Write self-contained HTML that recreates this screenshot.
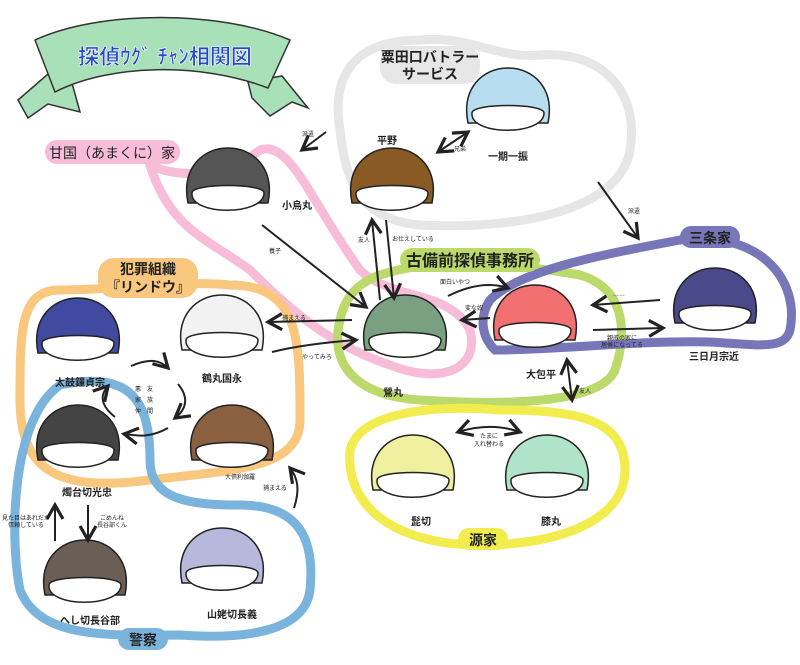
<!DOCTYPE html>
<html><head><meta charset="utf-8"><style>
html,body{margin:0;padding:0;background:#fff}
svg{display:block}
text{font-family:"Liberation Sans","Noto Sans CJK JP",sans-serif;fill:#222}
.n{font-size:10px;font-weight:bold;text-anchor:middle}
.s{font-size:6px;text-anchor:middle}
.g{font-size:16px;font-weight:bold;text-anchor:middle}
.loop{fill:none;stroke-width:9;stroke-linecap:round}
.ar{fill:none;stroke:#222;stroke-width:2;marker-end:url(#a)}
.ar2{fill:none;stroke:#222;stroke-width:2;marker-end:url(#a);marker-start:url(#b)}
.face{fill:#fff;stroke:#222;stroke-width:1.5}
.hair{stroke:#222;stroke-width:1.5}
</style></head><body>
<svg width="800" height="665" viewBox="0 0 800 665" xmlns="http://www.w3.org/2000/svg">
<defs>
<marker id="a" markerWidth="10" markerHeight="10" refX="8" refY="5" orient="auto"><path d="M1,1 L8,5 L1,9" fill="none" stroke="#222" stroke-width="1.6"/></marker>
<marker id="b" markerWidth="10" markerHeight="10" refX="2" refY="5" orient="auto"><path d="M9,1 L2,5 L9,9" fill="none" stroke="#222" stroke-width="1.6"/></marker>
<g id="head"><path class="hair" d="M-40,15 C-47,-20 -25,-40 0,-40 C25,-40 47,-20 40,15 Z"/><path class="face" d="M-36,5 C-38,28 36,28 36,5 C36,-5 -36,-5 -36,5 Z"/></g>
</defs>

<!-- banner -->
<path d="M18,100 L48,74 L70,76 L80,112 L48,104 L28,118 Z" fill="#a8e0b8" stroke="#333" stroke-width="1.5"/>
<path d="M248,82 L282,76 L308,108 L292,102 L270,116 L252,98 Z" fill="#a8e0b8" stroke="#333" stroke-width="1.5"/>
<path d="M35,40 C100,10 220,10 290,40 L268,88 C200,62 110,64 55,92 Z" fill="#a8e0b8" stroke="#333" stroke-width="1.5"/>
<text x="165" y="64" style="font-size:21px;font-weight:bold;fill:#2a46c8;stroke:#fff;stroke-width:0.6" text-anchor="middle">探偵ｳｸﾞ ﾁｬﾝ相関図</text>

<!-- loops -->
<path class="loop" stroke="#e6e6e6" d="M340,130 C330,70 360,40 420,40 C470,35 500,60 540,55 C600,50 640,90 630,150 C620,210 520,230 420,225 C360,220 345,180 340,130 Z"/>
<path class="loop" stroke="#f6bcd8" d="M150,165 C180,180 230,175 260,150 C290,140 310,200 360,270 C390,300 450,290 470,330 C480,370 440,385 390,365 C330,345 290,310 250,270 C210,240 170,230 150,165 Z"/>
<path class="loop" stroke="#fac77e" d="M60,290 C20,290 20,330 20,400 C20,480 70,490 150,480 C230,470 300,470 300,420 C300,340 300,285 230,285 C180,280 120,290 60,290 Z"/>
<path class="loop" stroke="#7ab4dc" d="M60,385 C130,370 150,400 150,460 C150,500 190,505 240,505 C300,505 315,540 310,590 C305,630 250,640 180,635 C110,635 40,640 20,590 C10,540 10,420 60,385 Z"/>
<path class="loop" stroke="#bcd96c" d="M380,275 C440,255 520,265 580,275 C630,290 625,340 615,370 C600,405 500,405 420,400 C350,395 330,360 340,320 C345,295 360,282 380,275 Z"/>
<path class="loop" stroke="#7676b8" d="M490,300 C520,270 600,255 680,240 C760,230 800,280 790,330 C785,350 760,345 710,342 C640,340 560,350 495,350 C480,335 480,315 490,300 Z"/>
<path class="loop" stroke="#f2ec4e" d="M350,450 C360,410 440,405 500,410 C580,410 625,420 625,470 C625,520 560,545 480,545 C400,545 345,510 350,450 Z"/>

<!-- group labels -->
<rect x="380" y="46" width="100" height="38" rx="16" fill="#e6e6e6"/>
<text class="g" x="430" y="62" style="font-size:14px">粟田口バトラー</text>
<text class="g" x="430" y="79" style="font-size:14px">サービス</text>
<rect x="45" y="140" width="135" height="24" rx="12" fill="#f6bcd8"/>
<text class="g" x="112" y="158" style="font-size:14px;font-weight:normal">甘国（あまくに）家</text>
<rect x="98" y="258" width="100" height="40" rx="16" fill="#fac77e"/>
<text class="g" x="148" y="274" style="font-size:14px">犯罪組織</text>
<text class="g" x="148" y="292" style="font-size:14px">『リンドウ』</text>
<rect x="400" y="248" width="140" height="24" rx="12" fill="#bcd96c"/>
<text class="g" x="470" y="266">古備前探偵事務所</text>
<rect x="680" y="226" width="60" height="22" rx="11" fill="#7676b8"/>
<text class="g" x="710" y="243" style="font-size:14px">三条家</text>
<rect x="458" y="528" width="50" height="22" rx="11" fill="#f2ec4e"/>
<text class="g" x="483" y="545" style="font-size:14px">源家</text>
<rect x="118" y="628" width="50" height="22" rx="11" fill="#7ab4dc"/>
<text class="g" x="143" y="645" style="font-size:14px">警察</text>

<!-- heads -->
<use href="#head" x="508" y="108" fill="#b8dcf0"/>
<use href="#head" x="392" y="188" fill="#8a5a24"/>
<use href="#head" x="228" y="188" fill="#555"/>
<use href="#head" x="405" y="335" fill="#7aa082"/>
<use href="#head" x="535" y="325" fill="#f27070"/>
<use href="#head" x="715" y="308" fill="#4a4a8a"/>
<use href="#head" x="78" y="338" fill="#404aa0"/>
<use href="#head" x="222" y="335" fill="#f2f2f2"/>
<use href="#head" x="232" y="445" fill="#8a6040"/>
<use href="#head" x="78" y="445" fill="#444"/>
<use href="#head" x="85" y="580" fill="#6a5e55"/>
<use href="#head" x="222" y="568" fill="#b8b8dc"/>
<use href="#head" x="413" y="475" fill="#eef0a0"/>
<use href="#head" x="547" y="475" fill="#b0e4c8"/>

<!-- names -->
<text class="n" x="508" y="160">一期一振</text>
<text class="n" x="387" y="144">平野</text>
<text class="n" x="297" y="209">小烏丸</text>
<text class="n" x="393" y="396">鶯丸</text>
<text class="n" x="541" y="378">大包平</text>
<text class="n" x="714" y="360">三日月宗近</text>
<text class="n" x="80" y="386">太鼓鐘貞宗</text>
<text class="n" x="222" y="382">鶴丸国永</text>
<text class="s" x="240" y="479">大倶利伽羅</text>
<text class="n" x="87" y="496">燭台切光忠</text>
<text class="n" x="90" y="624">へし切長谷部</text>
<text class="n" x="232" y="618">山姥切長義</text>
<text class="n" x="421" y="525">髭切</text>
<text class="n" x="551" y="525">膝丸</text>

<!-- arrows -->
<path class="ar" d="M326,132 L302,150"/><text class="s" x="308" y="136">派遣</text>
<path class="ar2" d="M438,152 L468,132"/><text class="s" x="460" y="151">兄弟</text>
<path class="ar" d="M598,182 L638,238"/><text class="s" x="634" y="213">派遣</text>
<path class="ar" d="M262,225 L366,307"/><text class="s" x="275" y="253">養子</text>
<path class="ar" d="M380,300 L372,220"/><text class="s" x="364" y="242">友人</text>
<path class="ar" d="M386,220 L394,298"/><text class="s" x="413" y="241">お仕えしている</text>
<path class="ar" d="M448,296 C470,285 490,282 508,288"/><text class="s" x="455" y="284">面白いやつ</text>
<path class="ar" d="M490,318 L462,320"/><text class="s" x="474" y="310">変な奴</text>
<path class="ar" d="M660,300 L593,305"/><text class="s" x="619" y="296">……</text>
<path class="ar" d="M593,330 L663,328"/><text class="s" x="622" y="340">親戚の家に</text><text class="s" x="622" y="347">居候になってる</text>
<path class="ar" d="M352,320 L268,322"/><text class="s" x="294" y="320">捕まえる</text>
<path class="ar" d="M272,352 C300,345 330,342 356,340"/><text class="s" x="317" y="359">やってみろ</text>
<path class="ar2" d="M567,360 L572,400"/><text class="s" x="585" y="393">友人</text>
<path class="ar2" d="M458,432 C480,425 500,425 520,432"/><text class="s" x="489" y="438">たまに</text><text class="s" x="489" y="446">入れ替わる</text>
<path class="ar" d="M131,366 C150,358 160,360 168,368"/>
<path class="ar" d="M178,384 C188,396 188,408 175,418"/>
<path class="ar" d="M168,428 C150,438 138,436 124,434"/>
<path class="ar" d="M115,417 C100,405 100,395 108,386"/>
<text class="s" x="138" y="391">悪</text><text class="s" x="138" y="402">家</text><text class="s" x="138" y="413">仲</text>
<text class="s" x="150" y="391">友</text><text class="s" x="150" y="402">族</text><text class="s" x="150" y="413">間</text>
<path class="ar" d="M55,541 L55,505"/><text class="s" x="26" y="520">見た目はあれだが</text><text class="s" x="26" y="527">信頼している</text>
<path class="ar" d="M88,505 L88,540"/><text class="s" x="112" y="520">ごめんね</text><text class="s" x="112" y="527">長谷部くん</text>
<path class="ar" d="M294,508 C300,490 298,478 290,468"/><text class="s" x="275" y="490">捕まえる</text>
</svg>
</body></html>
